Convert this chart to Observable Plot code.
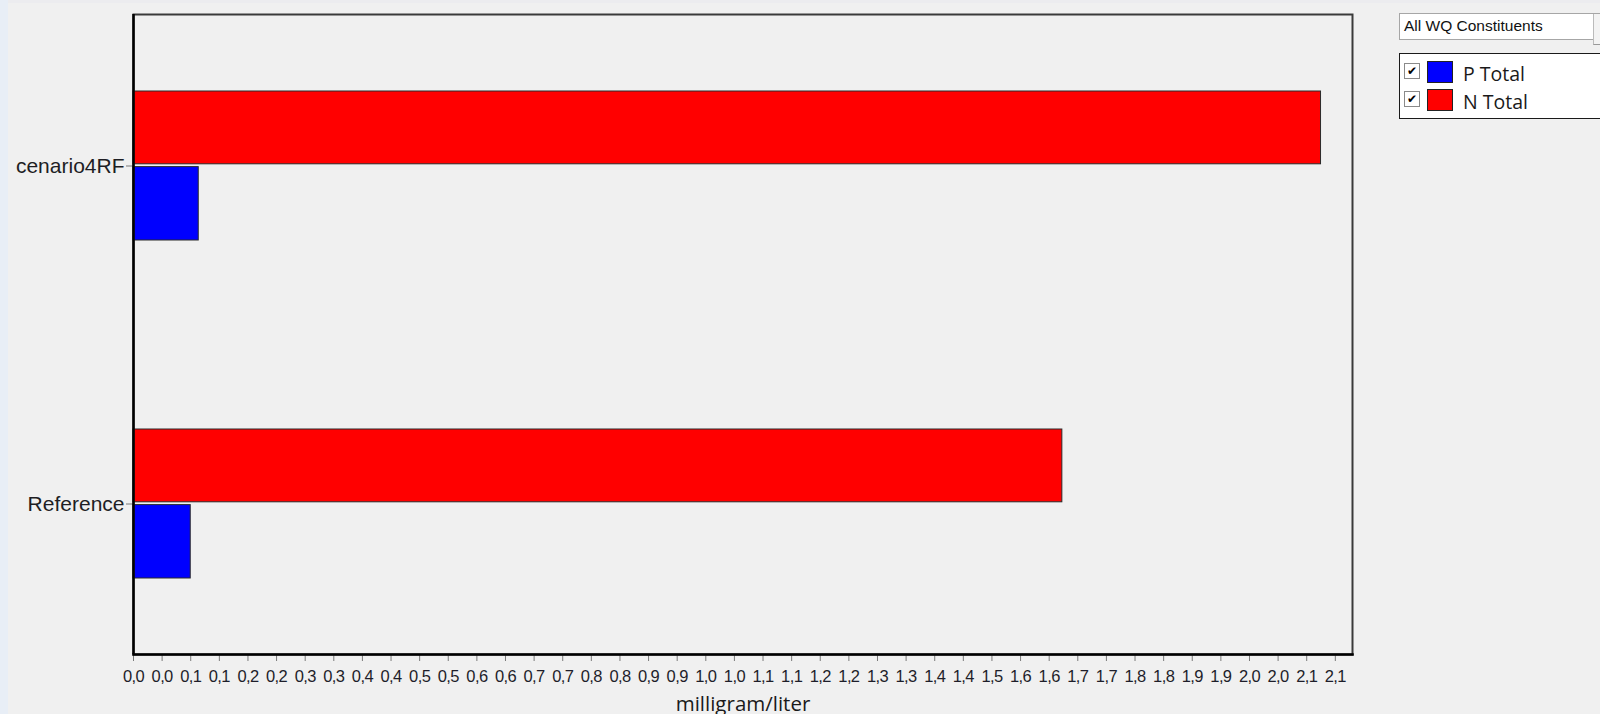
<!DOCTYPE html>
<html>
<head>
<meta charset="utf-8">
<script src="https://cdn.jsdelivr.net/npm/d3@7"></script>
<script src="https://cdn.jsdelivr.net/npm/@observablehq/plot@0.6"></script>
<style>
html, body { margin:0; padding:0; background:#f0f0f0; width:1600px; height:714px; overflow:hidden; }
#wrap { position:relative; width:1600px; height:714px; }
#chart { position:absolute; left:0; top:0; }
#leftstrip { position:absolute; left:0; top:0; width:8px; height:714px; background:#e8eef6; }
#topstrip { position:absolute; left:8px; top:0; width:1592px; height:3px; background:#ececef; }
#dropdown { position:absolute; left:1399px; top:13px; width:210px; height:27px; background:#fff;
  border:1px solid #a6a6a6; box-sizing:border-box; font-family:"Liberation Sans", Arial, sans-serif;
  font-size:15.5px; line-height:24px; padding-left:4px; color:#111; }
#ddbtn { position:absolute; left:1593px; top:14px; width:10px; height:30px; background:#f3f3f3; border-left:1px solid #bbb; border-bottom:1px solid #999; }
#legend { position:absolute; left:1399px; top:53px; width:210px; height:66px; background:#fff;
  border:1px solid #1a1a1a; box-sizing:border-box; }
#legend .item { position:absolute; left:0; width:200px; height:28px; }
#legend .cb { position:absolute; left:4px; top:2px; width:16px; height:16px; box-sizing:border-box;
  border:1px solid #8a8a8a; background:#fff; font-family:"DejaVu Sans", sans-serif; font-size:12px;
  line-height:14px; text-align:center; color:#000; font-weight:bold; }
#legend .sw { position:absolute; left:27px; top:0px; width:26px; height:22px; box-sizing:border-box; border:1px solid #222; }
#legend .lab { position:absolute; left:63px; top:2px; font-family:"Open Sans", "Noto Sans", sans-serif;
  font-size:19.5px; line-height:22px; color:#1a1a1a; white-space:nowrap; }
svg g[aria-label="x-axis tick"], svg g[aria-label="y-axis tick"] { stroke:#7a7a7a; }
svg g[aria-label="x-axis tick label"] text { font-size:16.5px; letter-spacing:-0.6px; fill:#1e1e2a; }
svg g[aria-label="y-axis tick label"] text { font-size:21px; fill:#1e1e24; }
svg g[aria-label="x-axis label"] text { font-family:"Open Sans", "Noto Sans", sans-serif; font-size:20.5px; fill:#1a1a1a; }
</style>
</head>
<body>
<div id="wrap">
  <div id="leftstrip"></div>
  <div id="topstrip"></div>
  <div id="chart"></div>
  <div id="dropdown"></div>
  <div id="ddbtn"></div>
  <div id="legend"></div>
</div>
<script>
// ---- data ----
const categories = ["cenario4RF", "Reference"];
const series = ["P Total", "N Total"];
const pTotal = [0.114, 0.100];
const nTotal = [2.075, 1.623];
const seriesColors = ["#0000ff", "#ff0000"];
const dropdownLabel = "All WQ Constituents";
const xLabel = "milligram/liter";
const xTickValues = [0, 0.05, 0.1, 0.15, 0.2, 0.25, 0.3, 0.35, 0.4, 0.45,
  0.5, 0.55, 0.6, 0.65, 0.7, 0.75, 0.8, 0.85, 0.9, 0.95,
  1.0, 1.05, 1.1, 1.15, 1.2, 1.25, 1.3, 1.35, 1.4, 1.45,
  1.5, 1.55, 1.6, 1.65, 1.7, 1.75, 1.8, 1.85, 1.9, 1.95,
  2.0, 2.05, 2.1];
const xTickLabels = ["0,0","0,0","0,1","0,1","0,2","0,2","0,3","0,3","0,4","0,4",
  "0,5","0,5","0,6","0,6","0,7","0,7","0,8","0,8","0,9","0,9",
  "1,0","1,0","1,1","1,1","1,2","1,2","1,3","1,3","1,4","1,4",
  "1,5","1,6","1,6","1,7","1,7","1,8","1,8","1,9","1,9","2,0",
  "2,0","2,1","2,1"];

const rows = categories.flatMap((c, i) => [
  {category: c, series: "N Total", value: nTotal[i]},
  {category: c, series: "P Total", value: pTotal[i]}
]);

const chart = Plot.plot({
  width: 1600,
  height: 714,
  marginLeft: 133,
  marginRight: 248,
  marginTop: 14,
  marginBottom: 60,
  style: {background: "transparent", fontFamily: "'Liberation Sans', Arial, sans-serif", color: "#222", overflow: "visible"},
  x: {
    domain: [0, 2.13],
    ticks: xTickValues,
    tickFormat: d => xTickLabels[xTickValues.indexOf(d)],
    tickSize: 7,
    tickPadding: 9,
    label: xLabel,
    labelAnchor: "center",
    labelOffset: 56,
    labelArrow: "none"
  },
  y: {
    domain: categories,
    paddingInner: 0.5594,
    paddingOuter: 0.2239,
    tickSize: 7,
    tickPadding: 2,
    label: null
  },
  color: {domain: series, range: seriesColors},
  marks: [
    Plot.barX(rows.filter(d => d.series === "N Total"), {
      y: "category", x: "value", fill: "series", stroke: "#2a2a2a", strokeWidth: 1, insetBottom: 76.2
    }),
    Plot.barX(rows.filter(d => d.series === "P Total"), {
      y: "category", x: "value", fill: "series", stroke: "#2a2a2a", strokeWidth: 1, insetTop: 75.6
    }),
    Plot.frame({stroke: "#3a3a3a", strokeWidth: 2}),
    Plot.frame({anchor: "bottom", stroke: "#000", strokeWidth: 2.5}),
    Plot.ruleX([0], {stroke: "#000", strokeWidth: 2.5})
  ]
});
document.getElementById("chart").appendChild(chart);

document.getElementById("dropdown").textContent = dropdownLabel;

const legend = document.getElementById("legend");
series.forEach((s, i) => {
  const item = document.createElement("div");
  item.className = "item";
  item.style.top = (7 + i * 28) + "px";
  const cb = document.createElement("span"); cb.className = "cb"; cb.textContent = "\u2714";
  const sw = document.createElement("span"); sw.className = "sw"; sw.style.background = seriesColors[i];
  const lab = document.createElement("span"); lab.className = "lab"; lab.textContent = s;
  item.appendChild(cb); item.appendChild(sw); item.appendChild(lab);
  legend.appendChild(item);
});
</script>
</body>
</html>
